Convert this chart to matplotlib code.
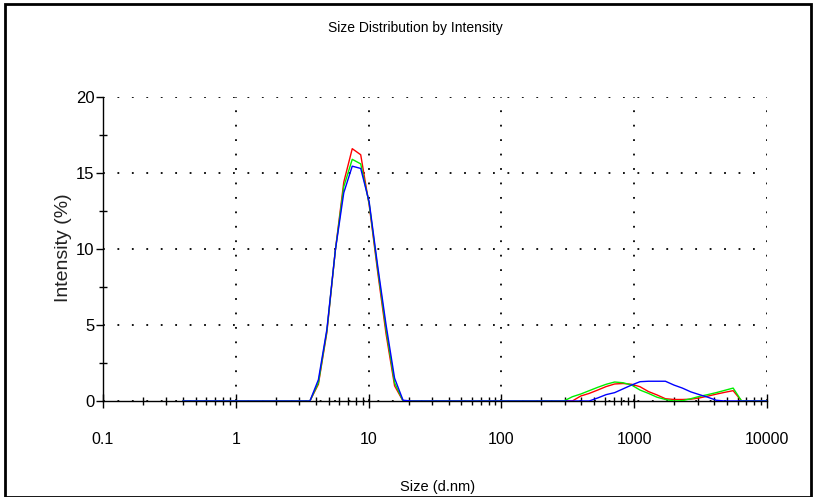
import numpy as np
import matplotlib
matplotlib.use("Agg")
import matplotlib.pyplot as plt
from matplotlib.patches import Rectangle
from matplotlib.ticker import LogLocator, FixedLocator, NullFormatter, FixedFormatter

# Size bins (d.nm), 70 log-spaced classes as reported by the instrument
sizes = [0.4, 0.4632, 0.5365, 0.6213, 0.7195, 0.8332, 0.9649, 1.117, 1.294, 1.499,
         1.736, 2.010, 2.328, 2.696, 3.122, 3.615, 4.187, 4.849, 5.615, 6.503,
         7.531, 8.721, 10.10, 11.70, 13.54, 15.69, 18.17, 21.04, 24.36, 28.21,
         32.67, 37.84, 43.82, 50.75, 58.77, 68.06, 78.82, 91.28, 105.7, 122.4,
         141.8, 164.2, 190.1, 220.2, 255.0, 295.3, 342.0, 396.1, 458.7, 531.2,
         615.1, 712.4, 825.0, 955.4, 1106, 1281, 1484, 1718, 1990, 2305,
         2669, 3091, 3580, 4145, 4801, 5560, 6439, 7456, 8635, 10000]

# Intensity (%) for bins from 3.615 to 18.17 (main peak)
red_main   = [0, 1.1, 4.5, 9.9, 14.4, 16.6, 16.2, 12.9, 8.5, 4.4, 1.0, 0]
green_main = [0, 1.2, 4.6, 9.9, 14.1, 15.9, 15.6, 13.0, 8.7, 4.7, 1.2, 0]
blue_main  = [0, 1.4, 4.7, 9.9, 13.7, 15.45, 15.3, 13.1, 8.9, 5.0, 1.5, 0.05]

# Intensity (%) for bins from 295.3 to 6439 (aggregate peaks)
red_agg   = [0, 0, 0.33, 0.5, 0.72, 0.95, 1.12, 1.15, 1.1, 0.94, 0.62, 0.4, 0.15,
             0.1, 0.1, 0.12, 0.2, 0.32, 0.45, 0.57, 0.68, 0]
green_agg = [0, 0.28, 0.46, 0.68, 0.9, 1.1, 1.25, 1.2, 1.05, 0.72, 0.5, 0.25, 0.1,
             0, 0.02, 0.15, 0.3, 0.42, 0.55, 0.7, 0.85, 0]
blue_agg  = [0, 0, 0, 0, 0.2, 0.42, 0.55, 0.8, 1.05, 1.27, 1.3, 1.3, 1.3,
             1.05, 0.85, 0.6, 0.42, 0.25, 0.05, 0, 0, 0]

def build(main, agg):
    y = np.zeros(len(sizes))
    i0 = sizes.index(3.615)
    y[i0:i0 + len(main)] = main
    j0 = sizes.index(295.3)
    y[j0:j0 + len(agg)] = agg
    return y

series = [("red", build(red_main, red_agg), "#ff0000"),
          ("green", build(green_main, green_agg), "#00ee00"),
          ("blue", build(blue_main, blue_agg), "#0000ff")]

title = "Size Distribution by Intensity"
xlabel = "Size (d.nm)"
ylabel = "Intensity (%)"
xticks = [0.1, 1, 10, 100, 1000, 10000]
xticklabels = ["0.1", "1", "10", "100", "1000", "10000"]
yticks = [0, 5, 10, 15, 20]

fam = ["Liberation Sans Narrow", "Liberation Sans", "DejaVu Sans"]
plt.rcParams['font.family'] = fam

fig = plt.figure(figsize=(8.14, 4.97), dpi=100)
ax = fig.add_axes([103/814, 1-401/497, (767-103)/814, (401-97)/497])

for name, y, c in series:
    ax.plot(sizes, y, color=c, lw=1.0, zorder=3)

ax.set_xscale("log")
ax.set_xlim(0.1, 10000)
ax.set_ylim(0, 20)

ax.xaxis.set_major_locator(FixedLocator(xticks))
ax.xaxis.set_major_formatter(FixedFormatter(xticklabels))
ax.xaxis.set_minor_locator(LogLocator(base=10, subs=np.arange(2, 10)))
ax.xaxis.set_minor_formatter(NullFormatter())
ax.yaxis.set_major_locator(FixedLocator(yticks))
ax.yaxis.set_minor_locator(FixedLocator([2.5, 7.5, 12.5, 17.5]))

ax.tick_params(axis="x", which="major", direction="inout", length=10, width=1, pad=17, labelsize=11.5)
ax.tick_params(axis="x", which="minor", direction="inout", length=6, width=1)
ax.tick_params(axis="y", which="major", direction="out", length=5, width=1, pad=1, labelsize=12)
ax.tick_params(axis="y", which="minor", direction="inout", length=6, width=1)

ax.grid(True, which="major", color="black", linestyle=(0, (1, 7)), linewidth=1.3)
for s in ["top", "right"]:
    ax.spines[s].set_visible(False)
for s in ["left", "bottom"]:
    ax.spines[s].set_linewidth(1.0)

fig.text(438/814, 1-487/497, xlabel, ha="center", va="center", fontsize=10.5)
fig.text(64/814, 1-248/497, ylabel, ha="center", va="center", rotation=90, fontsize=14,
         color="#222222")
fig.text(415/814, 1-28/497, title, ha="center", va="center", fontsize=10)

fig.patches.append(Rectangle((5/814, 0), (811-5)/814, 1-4/497, transform=fig.transFigure,
                             fill=False, edgecolor="black", linewidth=2))

fig.savefig("out.png", dpi=100)
